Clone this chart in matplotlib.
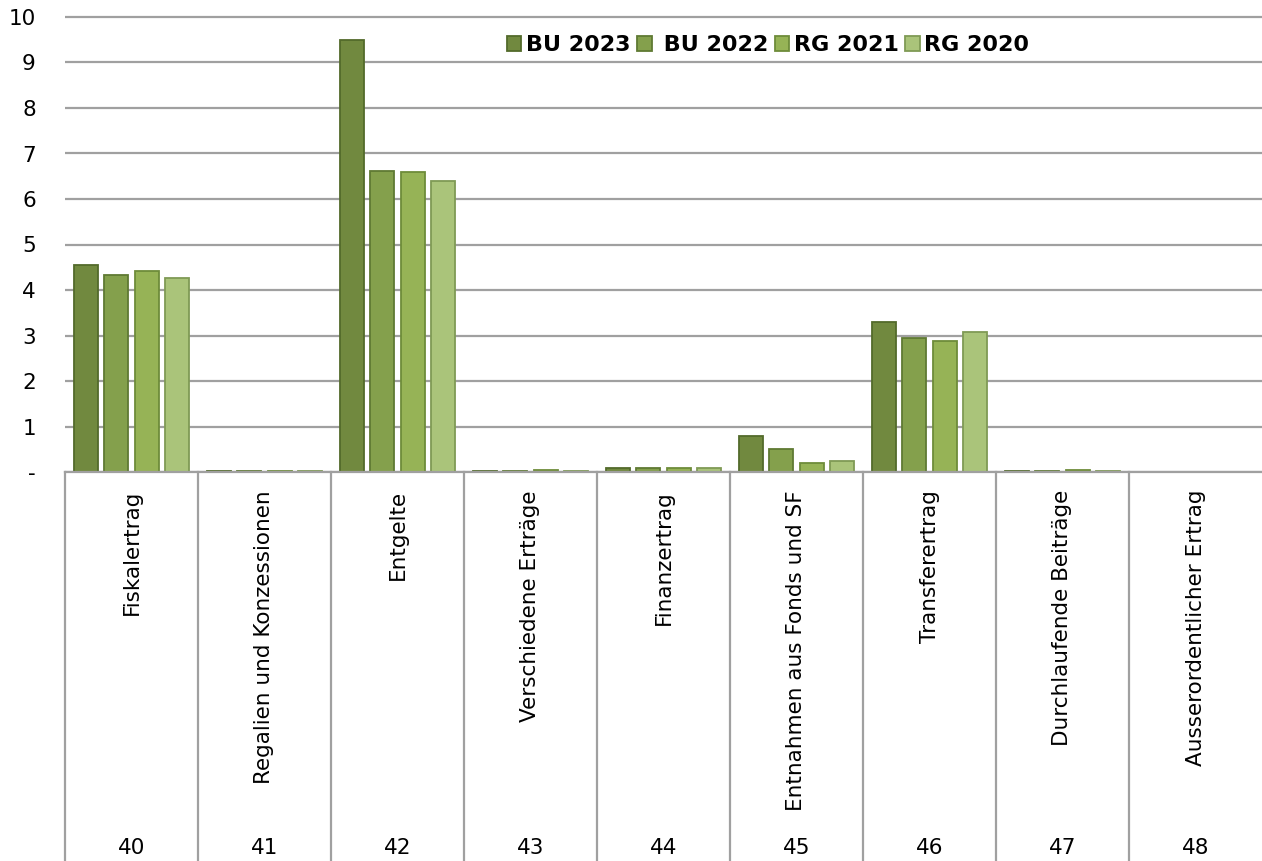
import numpy as np
import matplotlib.pyplot as plt

# ---- data ----
codes = ['40', '41', '42', '43', '44', '45', '46', '47', '48']
categories = ['Fiskalertrag', 'Regalien und Konzessionen', 'Entgelte',
              'Verschiedene Erträge', 'Finanzertrag', 'Entnahmen aus Fonds und SF',
              'Transferertrag', 'Durchlaufende Beiträge', 'Ausserordentlicher Ertrag']
series_names = ['BU 2023', ' BU 2022', 'RG 2021', 'RG 2020']
bu2023 = [4.55, 0.02, 9.50, 0.02, 0.08, 0.79, 3.30, 0.02, 0.0]
bu2022 = [4.32, 0.02, 6.62, 0.02, 0.08, 0.51, 2.95, 0.02, 0.0]
rg2021 = [4.42, 0.02, 6.60, 0.04, 0.08, 0.20, 2.88, 0.04, 0.0]
rg2020 = [4.27, 0.02, 6.40, 0.02, 0.08, 0.24, 3.08, 0.02, 0.0]
yticks = [0, 1, 2, 3, 4, 5, 6, 7, 8, 9, 10]
ytick_labels = ['-', '1', '2', '3', '4', '5', '6', '7', '8', '9', '10']

colors = ['#71893f', '#84a04c', '#96b356', '#aac47a']
edges = ['#536a2b', '#5f7a33', '#6e8c3a', '#7f9a55']

plt.rcParams['font.family'] = ['DejaVu Sans']

fig = plt.figure(figsize=(12.62, 8.61), dpi=100)
# y=0 at pixel 472, y=10 at pixel 17 -> 45.5 px per unit, keep 0.1 headroom
ax = fig.add_axes([65 / 1262, 1 - 472 / 861, 1 - 65 / 1262, 459.55 / 861])

x = np.arange(len(codes))
width = 0.18
step = 0.228
all_series = [bu2023, bu2022, rg2021, rg2020]
for i, vals in enumerate(all_series):
    ax.bar(x + (i - 1.5) * step, vals, width, color=colors[i],
           edgecolor=edges[i], linewidth=1.3, label=series_names[i], zorder=3)

ax.set_xlim(-0.5, len(codes) - 0.5)
ax.set_ylim(0, 10.1)
ax.set_yticks(yticks)
ax.set_yticklabels(ytick_labels, fontsize=15.5)
ax.tick_params(axis='y', length=0, pad=21)
ax.set_xticks([])
ax.grid(axis='y', color='#a0a0a0', linewidth=1.6, zorder=0)
for s in ['top', 'right', 'left']:
    ax.spines[s].set_visible(False)
ax.spines['bottom'].set_color('#a0a0a0')
ax.spines['bottom'].set_linewidth(1.6)
ax.spines['bottom'].set_zorder(4)

# category "table" below the axis
tr = ax.get_xaxis_transform()
h = 459.55
bottom_frac = -(861 - 472) / h
for b in np.arange(len(codes)) - 0.5:
    ax.plot([b, b], [0, bottom_frac], transform=tr, color='#a0a0a0',
            linewidth=1.6, clip_on=False)
for i in range(len(codes)):
    ax.text(x[i], -18 / h, categories[i], transform=tr, rotation=90,
            ha='center', va='top', fontsize=15.5)
    ax.text(x[i], -(848 - 472) / h, codes[i], transform=tr,
            ha='center', va='center', fontsize=15.5)

leg = ax.legend(loc='upper left', bbox_to_anchor=(0.360, 0.975), ncol=4, frameon=False,
                borderpad=0, handlelength=0.65, handleheight=0.65, handletextpad=0.2,
                columnspacing=0.3, prop={'weight': 'bold', 'size': 16})

fig.savefig('out.png', dpi=100)
